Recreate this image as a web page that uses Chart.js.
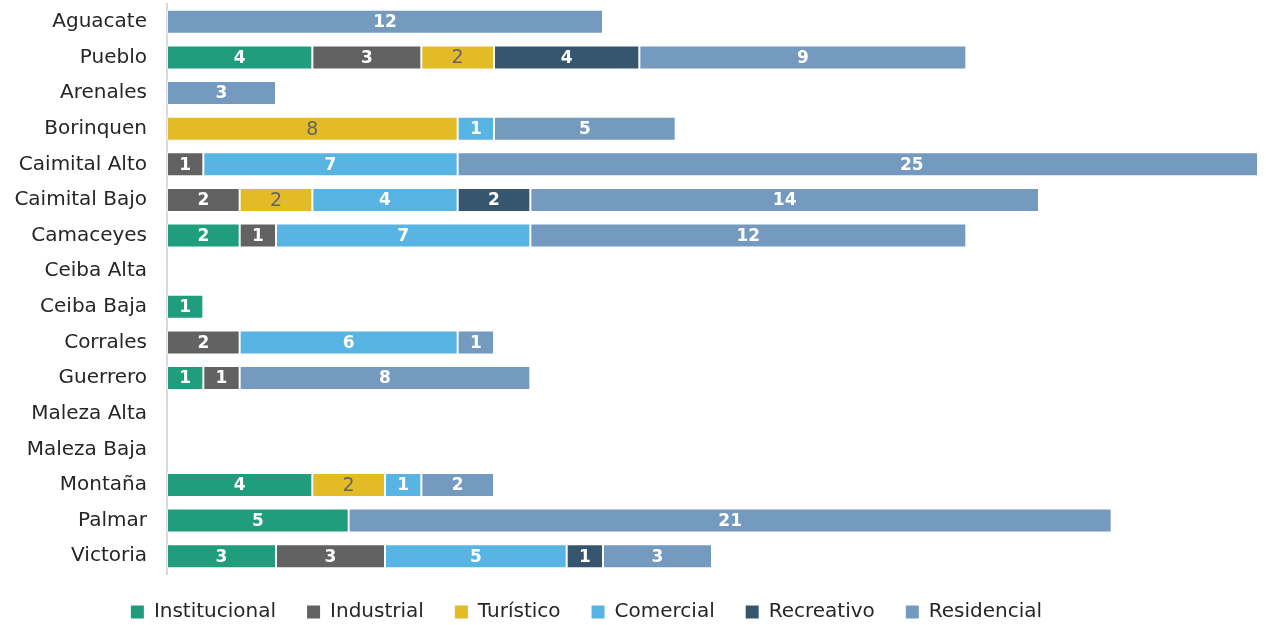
<!DOCTYPE html>
<html>
<head>
<meta charset="utf-8">
<script src="https://cdn.jsdelivr.net/npm/chart.js@4/dist/chart.umd.min.js"></script>
<style>
  html, body { margin: 0; padding: 0; background: #ffffff; }
  #wrap { width: 1266px; height: 625px; }
</style>
</head>
<body>
<div id="wrap"><canvas id="c" width="1266" height="625"></canvas></div>
<script>
// Land-use counts per sector (horizontal stacked bars)
const categories = ['Aguacate', 'Pueblo', 'Arenales', 'Borinquen', 'Caimital Alto', 'Caimital Bajo',
  'Camaceyes', 'Ceiba Alta', 'Ceiba Baja', 'Corrales', 'Guerrero', 'Maleza Alta', 'Maleza Baja',
  'Montaña', 'Palmar', 'Victoria'];

const seriesNames = ['Institucional', 'Industrial', 'Turístico', 'Comercial', 'Recreativo', 'Residencial'];

const institucional = [null, 4, null, null, null, null, 2, null, 1, null, 1, null, null, 4, 5, 3];
const industrial    = [null, 3, null, null, 1, 2, 1, null, null, 2, 1, null, null, null, null, 3];
const turistico     = [null, 2, null, 8, null, 2, null, null, null, null, null, null, null, 2, null, null];
const comercial     = [null, null, null, 1, 7, 4, 7, null, null, 6, null, null, null, 1, null, 5];
const recreativo    = [null, 4, null, null, null, 2, null, null, null, null, null, null, null, null, null, 1];
const residencial   = [12, 9, 3, 5, 25, 14, 12, null, null, 1, 8, null, null, 2, 21, 3];

const axisMax = 30;

const colors = ['#1f9d7d', '#626262', '#e2bb26', '#58b4e2', '#36566f', '#759abf'];
const labelColors = ['#ffffff', '#ffffff', '#646464', '#ffffff', '#ffffff', '#ffffff'];
const labelBold = [true, true, false, true, true, true];

const seriesValues = [institucional, industrial, turistico, comercial, recreativo, residencial];

const FONT = "'DejaVu Sans', sans-serif";

// Value labels centred on each full segment (segments past the axis end keep their true centre)
const segmentLabels = {
  id: 'segmentLabels',
  afterDatasetsDraw(chart) {
    const ctx = chart.ctx;
    ctx.save();
    ctx.textAlign = 'center';
    ctx.textBaseline = 'middle';
    chart.data.datasets.forEach((ds, di) => {
      const meta = chart.getDatasetMeta(di);
      if (meta.hidden) return;
      meta.data.forEach((el, i) => {
        const v = ds.data[i];
        if (v === null || v === undefined) return;
        const cx = (el.x + el.base) / 2;
        ctx.font = labelBold[di] ? 'bold 17px ' + FONT : '19px ' + FONT;
        ctx.fillStyle = labelColors[di];
        ctx.fillText(String(v), cx, el.y + 1);
      });
    });
    ctx.restore();
  }
};

// Nudge the legend row a little left and up, under the bars
const legendOffset = {
  id: 'legendOffset',
  afterLayout(chart) {
    const lg = chart.legend;
    if (!lg) return;
    lg.left -= 42; lg.right -= 42;
    lg.top -= 3; lg.bottom -= 3;
  }
};

new Chart(document.getElementById('c'), {
  type: 'bar',
  data: {
    labels: categories,
    datasets: seriesNames.map((name, k) => ({
      label: name,
      data: seriesValues[k],
      backgroundColor: colors[k],
      borderColor: 'rgba(255,255,255,0.55)',
      borderWidth: 1,
      borderSkipped: false,
      categoryPercentage: 1.0,
      barPercentage: 0.674
    }))
  },
  options: {
    indexAxis: 'y',
    responsive: false,
    animation: false,
    layout: { padding: { top: 4, right: 9, left: 0, bottom: -10 } },
    scales: {
      x: {
        stacked: true,
        min: 0,
        max: axisMax,
        display: false
      },
      y: {
        stacked: true,
        grid: { display: false, drawTicks: false },
        border: { display: true, color: '#d9d9d9', width: 2 },
        ticks: {
          color: '#262626',
          padding: 20,
          font: { family: FONT, size: 20 }
        },
        afterFit(scale) {
          scale.width = 167;
          scale.paddingTop = 0;
          scale.paddingBottom = 0;
        }
      }
    },
    plugins: {
      legend: {
        position: 'bottom',
        labels: {
          color: '#262626',
          font: { family: FONT, size: 20 },
          boxWidth: 13,
          boxHeight: 13,
          padding: 31,
          generateLabels(chart) {
            return chart.data.datasets.map((ds, i) => ({
              text: ds.label,
              fillStyle: colors[i],
              strokeStyle: colors[i],
              lineWidth: 0,
              hidden: false,
              datasetIndex: i,
              fontColor: '#262626'
            }));
          }
        }
      },
      tooltip: { enabled: false }
    }
  },
  plugins: [segmentLabels, legendOffset]
});
</script>
</body>
</html>
